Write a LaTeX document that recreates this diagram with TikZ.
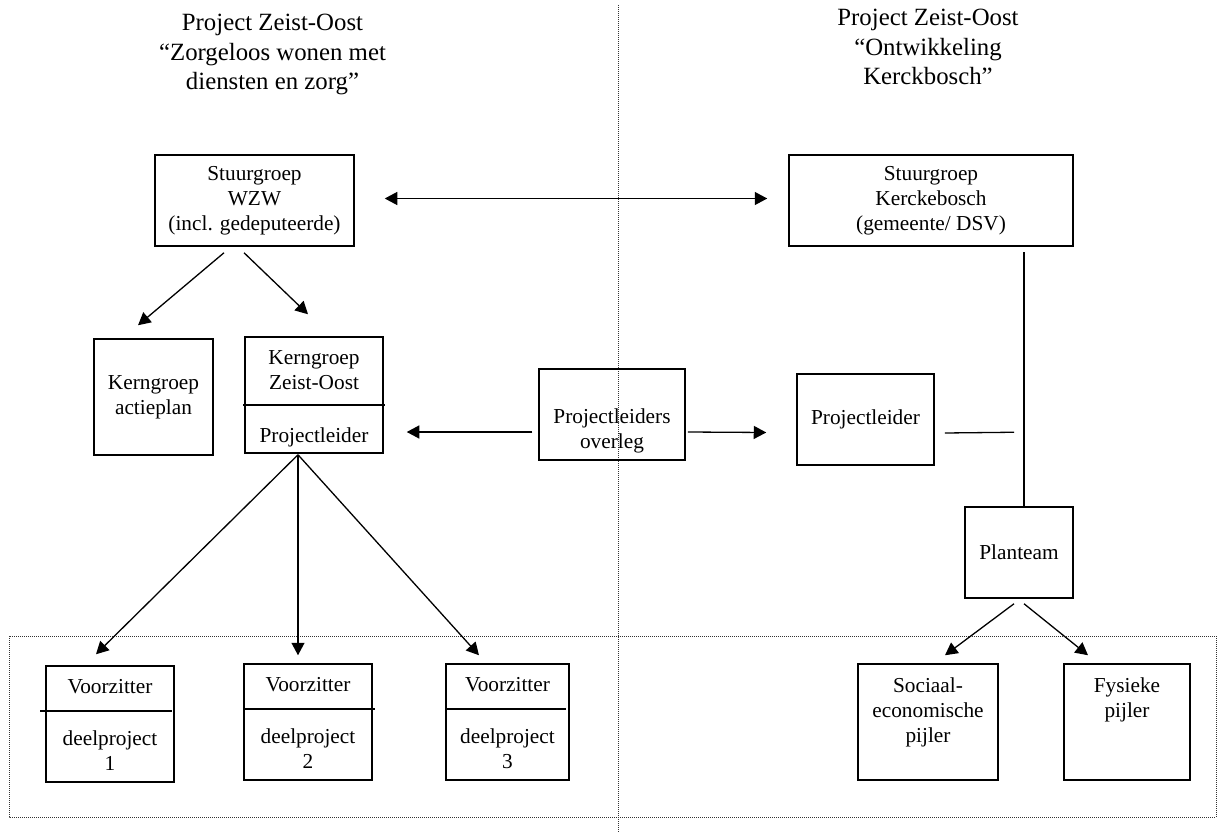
\documentclass[tikz,border=0pt]{standalone}
\usepackage{fontspec}
\setmainfont{Liberation Serif}
\usetikzlibrary{arrows.meta}

\begin{document}
\begin{tikzpicture}[x=1pt,y=-1pt,
 font=\fontsize{21.3}{25}\selectfont,
 box/.style={draw,line width=1.5pt,inner sep=0pt,align=center},
 txt/.style={inner sep=0pt,align=center},
 title/.style={txt,font=\fontsize{24.8}{29.5}\selectfont},
 arr/.style={line width=1.3pt,-{Triangle[length=12.5pt,width=13pt]}},
 dbl/.style={line width=1.3pt,{Triangle[length=12.5pt,width=13pt]}-{Triangle[length=12.5pt,width=13pt]}},
 link/.style={line width=1.3pt},
 sep/.style={line width=1pt,densely dotted,black!80}]
 \useasboundingbox (0,0) rectangle (1218,832);
 \draw[sep] (618,5) -- (618,832);
 \draw[sep] (9,636) rectangle (1216,817);

 \node[title] (titleL) at (272.5,54.5) {Project Zeist-Oost\\“Zorgeloos wonen met\\diensten en zorg”};
 \node[title] (titleR) at (928,47.3) {Project Zeist-Oost\\“Ontwikkeling\\Kerckbosch”};

 \node[box,minimum width=199,minimum height=91] (wzw) at (254.5,200.5) {Stuurgroep\\WZW\\(incl. gedeputeerde)};
 \node[box,minimum width=284,minimum height=91] (kerk) at (931,200.5) {Stuurgroep\\Kerckebosch\\(gemeente/ DSV)};
 \node[box,minimum width=119,minimum height=116] (actie) at (153.5,397) {Kerngroep\\actieplan};
 \node[box,minimum width=138,minimum height=116] (kzo) at (314,395) {};
 \node[txt] (kzotxt) at (314,370.5) {Kerngroep\\Zeist-Oost};
 \node[txt] (kzopl) at (314,437) {Projectleider};
 \draw[link] ([shift={(-1,10)}]kzo.west) -- ([shift={(1,10)}]kzo.east);
 \node[box,minimum width=146,minimum height=91] (ovl) at (612,414.5) {};
 \node[txt] (ovltxt) at (612,430.5) {Projectleiders\\overleg};
 \node[box,minimum width=137,minimum height=91] (pl) at (865.5,419.5) {Projectleider};
 \node[box,minimum width=108,minimum height=91] (plan) at (1019,552.5) {Planteam};
 \node[box,minimum width=140,minimum height=116] (sociaal) at (928,722) {};
 \node[txt] (sociaaltxt) at (928,712.5) {Sociaal-\\economische\\pijler};
 \node[box,minimum width=126,minimum height=116] (fysiek) at (1127,722) {};
 \node[txt] (fysiektxt) at (1127,700) {Fysieke\\pijler};

 \foreach \i/\x/\y/\w/\l/\r in {1/110/724/128/-5/-3,2/308/722/128/0/2,3/507.5/722/123/0/-4}{
  \node[box,minimum width=\w,minimum height=116] (dp\i) at (\x,\y) {};
  \node[txt] (vz\i) at ([shift={(0,-37)}]dp\i.center) {Voorzitter};
  \node[txt] (dpn\i) at ([shift={(0,27)}]dp\i.center) {deelproject\\\i};
  \draw[link] ([shift={(\l,-13)}]dp\i.west) -- ([shift={(\r,-13)}]dp\i.east);
 }

 \draw[arr] ([shift={(-30.5,6)}]wzw.south) -- ([shift={(-15.5,-13)}]actie.north);
 \draw[arr] ([shift={(-10.5,6)}]wzw.south) -- ([shift={(-6,-22)}]kzo.north);
 \draw[dbl] ([shift={(30,-2)}]wzw.east) -- ([shift={(-21,-2)}]kerk.west);
 \draw[arr] ([shift={(-6,17.5)}]ovl.west) -- ([shift={(23,37)}]kzo.east);
 \draw[arr] ([shift={(2,17.5)}]ovl.east) -- ([shift={(-30,13)}]pl.west);
 \draw[link] ([shift={(10,13.5)}]pl.east) -- ([shift={(-5,-74)}]plan.north);
 \draw[link] ([shift={(5,0)}]plan.north) -- ([shift={(93,5)}]kerk.south);
 \foreach \i/\dx/\dy in {1/-14/-11,2/-10/-8,3/-28.5/-8}
  \draw[arr] ([shift={(-16,1)}]kzo.south) -- ([shift={(\dx,\dy)}]dp\i.north);
 \draw[arr] ([shift={(-5,5)}]plan.south) -- ([shift={(17,-8)}]sociaal.north);
 \draw[arr] ([shift={(5,5)}]plan.south) -- ([shift={(-39,-8)}]fysiek.north);
\end{tikzpicture}
\end{document}
